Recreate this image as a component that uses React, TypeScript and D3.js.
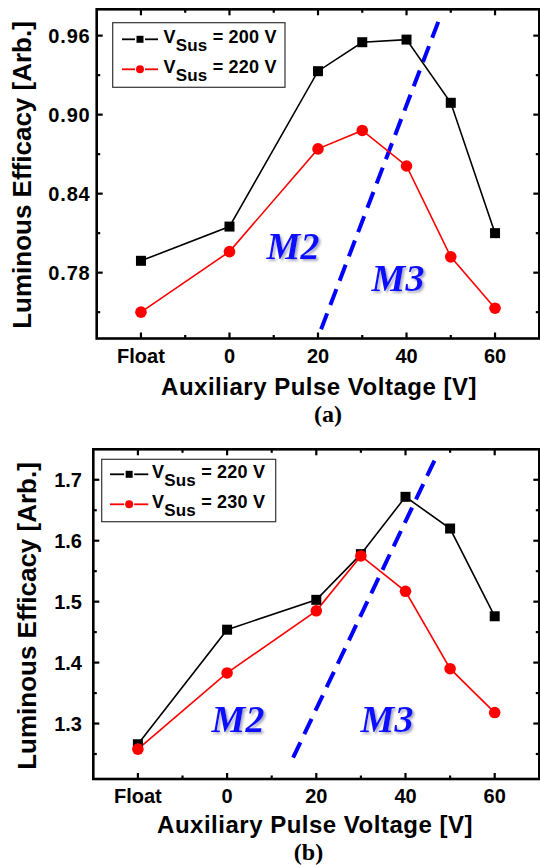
import React, { useRef, useEffect } from "react";
import * as d3 from "d3";

// x positions of the measured points ("Float" is drawn at -20)
const xPositions = [-20, 0, 20, 30, 40, 50, 60];
const xTickValues = [-20, 0, 20, 40, 60];
const xTickLabels = ["Float", "0", "20", "40", "60"];
const xMinorTicks = [-10, 10, 30, 50];

// panel (a)
const effA200 = [0.789, 0.815, 0.933, 0.955, 0.957, 0.909, 0.810];
const effA220 = [0.750, 0.796, 0.874, 0.888, 0.861, 0.792, 0.753];
const yTicksA = [0.78, 0.84, 0.9, 0.96];
const yMinorA = [0.75, 0.81, 0.87, 0.93];
const dashA = [[20.7, 0.737], [47.8, 0.976]];
const legendA = ["200", "220"];

// panel (b)
const effB220 = [1.266, 1.454, 1.503, 1.578, 1.672, 1.62, 1.476];
const effB230 = [1.258, 1.383, 1.485, 1.575, 1.517, 1.39, 1.318];
const yTicksB = [1.3, 1.4, 1.5, 1.6, 1.7];
const yMinorB = [1.25, 1.35, 1.45, 1.55, 1.65];
const dashB = [[14.8, 1.244], [47.3, 1.744]];
const legendB = ["220", "230"];

const SANS = "'Liberation Sans', Arial, sans-serif";
const SERIF = "'Liberation Serif', 'Times New Roman', serif";

const drawPanel = (root, cfg) => {
    const g = root.append("g");
    const x = d3.scaleLinear().domain([-30, 70]).range([cfg.left, cfg.right]);
    const y = d3.scaleLinear().domain(cfg.yDomain).range([cfg.bottom, cfg.top]);

    const defs = g.append("defs");
    defs.append("clipPath").attr("id", cfg.id + "-clip")
        .append("rect")
        .attr("x", cfg.left).attr("y", cfg.top)
        .attr("width", cfg.right - cfg.left).attr("height", cfg.bottom - cfg.top);
    defs.append("filter").attr("id", cfg.id + "-shadow")
        .attr("x", "-20%").attr("y", "-20%").attr("width", "140%").attr("height", "140%")
        .append("feDropShadow")
        .attr("dx", 2).attr("dy", 2).attr("stdDeviation", 0.8)
        .attr("flood-color", "#8888aa").attr("flood-opacity", 0.7);

    // inward ticks on all four sides
    const tickG = g.append("g").attr("stroke", "black").attr("stroke-width", 2.2);
    const xt = (vals, len) => {
        vals.forEach(v => {
            tickG.append("line").attr("x1", x(v)).attr("x2", x(v))
                .attr("y1", cfg.bottom).attr("y2", cfg.bottom - len);
            tickG.append("line").attr("x1", x(v)).attr("x2", x(v))
                .attr("y1", cfg.top).attr("y2", cfg.top + len);
        });
    };
    const yt = (vals, len) => {
        vals.forEach(v => {
            tickG.append("line").attr("y1", y(v)).attr("y2", y(v))
                .attr("x1", cfg.left).attr("x2", cfg.left + len);
            tickG.append("line").attr("y1", y(v)).attr("y2", y(v))
                .attr("x1", cfg.right).attr("x2", cfg.right - len);
        });
    };
    xt(xTickValues, 6);
    xt(xMinorTicks, 3.5);
    yt(cfg.yTicks, 6);
    yt(cfg.yMinor, 3.5);

    g.append("rect")
        .attr("x", cfg.left).attr("y", cfg.top)
        .attr("width", cfg.right - cfg.left).attr("height", cfg.bottom - cfg.top)
        .attr("fill", "none").attr("stroke", "black").attr("stroke-width", 2.6);

    // tick labels
    g.selectAll(".xlab").data(xTickValues).enter().append("text")
        .attr("x", d => x(d)).attr("y", cfg.xLabelY)
        .attr("text-anchor", "middle")
        .style("font-family", SANS).style("font-weight", "bold").style("font-size", "20px")
        .text((d, i) => xTickLabels[i]);

    g.selectAll(".ylab").data(cfg.yTicks).enter().append("text")
        .attr("x", cfg.yLabelX).attr("y", d => y(d) + 7)
        .attr("text-anchor", "end")
        .style("font-family", SANS).style("font-weight", "bold").style("font-size", "20px")
        .style("letter-spacing", cfg.yLabelSpacing)
        .text(d => d3.format(cfg.yFormat)(d));

    // axis titles
    g.append("text")
        .attr("x", cfg.xTitleX).attr("y", cfg.xTitleY)
        .attr("text-anchor", "middle")
        .style("font-family", SANS).style("font-weight", "bold").style("font-size", "24px")
        .style("letter-spacing", "0.5px")
        .text("Auxiliary Pulse Voltage [V]");

    g.append("text")
        .attr("transform", `translate(${cfg.yTitleX},${cfg.yTitleY}) rotate(-90)`)
        .attr("text-anchor", "middle")
        .style("font-family", SANS).style("font-weight", "bold").style("font-size", "26px")
        .text("Luminous Efficacy [Arb.]");

    g.append("text")
        .attr("x", cfg.captionX).attr("y", cfg.captionY)
        .attr("text-anchor", "middle")
        .style("font-family", SERIF).style("font-weight", "bold").style("font-size", "24px")
        .text(cfg.caption);

    const plot = g.append("g").attr("clip-path", `url(#${cfg.id}-clip)`);

    // mode labels with a soft grey shadow
    cfg.modes.forEach(m => {
        plot.append("text")
            .attr("x", m.x).attr("y", m.y)
            .attr("text-anchor", "middle")
            .attr("filter", `url(#${cfg.id}-shadow)`)
            .style("font-family", SERIF).style("font-weight", "bold")
            .style("font-style", "italic").style("font-size", "38px")
            .style("fill", "#1010ff")
            .text(m.text);
    });

    // boundary between modes
    plot.append("line")
        .attr("x1", x(cfg.dash[0][0])).attr("y1", y(cfg.dash[0][1]))
        .attr("x2", x(cfg.dash[1][0])).attr("y2", y(cfg.dash[1][1]))
        .attr("stroke", "#0000ff").attr("stroke-width", 4)
        .attr("stroke-dasharray", "17,9");

    const line = d3.line().x((d, i) => x(xPositions[i])).y(d => y(d));

    const series = [
        { values: cfg.black, colour: "black", shape: "square" },
        { values: cfg.red, colour: "#ff0000", shape: "circle" }
    ];

    series.forEach(s => {
        plot.append("path").datum(s.values)
            .attr("fill", "none").attr("stroke", s.colour).attr("stroke-width", 1.6)
            .attr("d", line);
    });
    series.forEach(s => {
        s.values.forEach((v, i) => {
            if (s.shape === "square") {
                g.append("rect")
                    .attr("x", x(xPositions[i]) - 5).attr("y", y(v) - 5)
                    .attr("width", 10).attr("height", 10).attr("fill", s.colour);
            } else {
                g.append("circle")
                    .attr("cx", x(xPositions[i])).attr("cy", y(v)).attr("r", 5.8)
                    .attr("fill", s.colour);
            }
        });
    });

    // legend
    const lg = g.append("g");
    lg.append("rect")
        .attr("x", cfg.legend.x).attr("y", cfg.legend.y)
        .attr("width", cfg.legend.w).attr("height", cfg.legend.h)
        .attr("fill", "white").attr("stroke", "#333").attr("stroke-width", 1.2);

    series.forEach((s, i) => {
        const ly = cfg.legend.rowY[i];
        const x0 = cfg.legend.lineX0, x1 = cfg.legend.lineX1, xm = (x0 + x1) / 2;
        lg.append("line").attr("x1", x0).attr("x2", xm - 5).attr("y1", ly).attr("y2", ly)
            .attr("stroke", s.colour).attr("stroke-width", 1.8);
        lg.append("line").attr("x1", xm + 5).attr("x2", x1).attr("y1", ly).attr("y2", ly)
            .attr("stroke", s.colour).attr("stroke-width", 1.8);
        if (s.shape === "square") {
            lg.append("rect").attr("x", xm - 3.5).attr("y", ly - 3.5)
                .attr("width", 7).attr("height", 7).attr("fill", s.colour);
        } else {
            lg.append("circle").attr("cx", xm).attr("cy", ly).attr("r", 4).attr("fill", s.colour);
        }
        const t = lg.append("text")
            .attr("x", cfg.legend.textX).attr("y", ly + 4)
            .style("font-family", SANS).style("font-weight", "bold").style("font-size", "18px")
            .style("letter-spacing", "0.2px");
        t.append("tspan").text("V");
        t.append("tspan").attr("dy", 8).style("font-size", "17px").text("Sus");
        t.append("tspan").attr("dy", -8).text(` = ${cfg.legendLabels[i]} V`);
    });
};

const App = () => {
    const svgRef = useRef(null);

    useEffect(() => {
        if (!svgRef.current) return;
        const svg = d3.select(svgRef.current);
        svg.selectAll("*").remove();

        drawPanel(svg, {
            id: "pa",
            left: 96.7, right: 539.3, top: 9.3, bottom: 338.5,
            yDomain: [0.73, 0.98],
            yTicks: yTicksA, yMinor: yMinorA, yFormat: ".2f",
            yLabelX: 90.5, yLabelSpacing: "0.8px",
            xLabelY: 363, xTitleX: 319, xTitleY: 395,
            yTitleX: 30.5, yTitleY: 175,
            caption: "(a)", captionX: 328, captionY: 422,
            black: effA200, red: effA220, dash: dashA,
            modes: [{ text: "M2", x: 293, y: 259 }, { text: "M3", x: 398, y: 291 }],
            legendLabels: legendA,
            legend: { x: 112.7, y: 22.7, w: 172.3, h: 64.6, rowY: [39.3, 69.3], lineX0: 122, lineX1: 158, textX: 163.5 }
        });

        drawPanel(svg, {
            id: "pb",
            left: 93.3, right: 539.3, top: 449.3, bottom: 779,
            yDomain: [1.209, 1.75],
            yTicks: yTicksB, yMinor: yMinorB, yFormat: ".1f",
            yLabelX: 82, yLabelSpacing: "0px",
            xLabelY: 803, xTitleX: 315, xTitleY: 833,
            yTitleX: 36, yTitleY: 616,
            caption: "(b)", captionX: 308.5, captionY: 860,
            black: effB220, red: effB230, dash: dashB,
            modes: [{ text: "M2", x: 238, y: 732 }, { text: "M3", x: 387, y: 732 }],
            legendLabels: legendB,
            legend: { x: 101.7, y: 459.3, w: 174, h: 62.4, rowY: [474.3, 504.3], lineX0: 110, lineX1: 148.3, textX: 152 }
        });
    }, []);

    return (
        <svg
            ref={svgRef}
            width={540}
            height={865}
            style={{ position: "absolute", left: 0, top: 0, background: "white" }}
        />
    );
};

export default App;
